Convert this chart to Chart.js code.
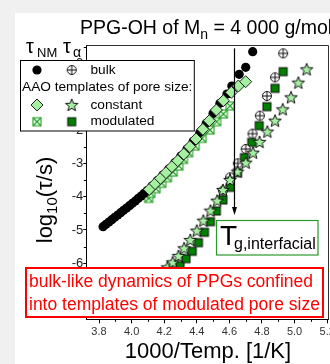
<!DOCTYPE html>
<html><head><meta charset="utf-8">
<script src="https://cdn.jsdelivr.net/npm/chart.js@4/dist/chart.umd.min.js"></script>
<style>
html,body{margin:0;padding:0;background:#f0f0f0;width:330px;height:364px;overflow:hidden;}
#wrap{position:absolute;left:15px;top:13px;width:315px;height:351px;overflow:hidden;background:#fff;}
canvas{display:block;}
</style></head><body>
<div id="wrap"><canvas id="c" width="400" height="351" style="width:400px;height:351px"></canvas></div>
<script>
// ---- data ----
const xTickValues = [3.8, 4.0, 4.2, 4.4, 4.6, 4.8, 5.0, 5.2];
const xMinorValues = [3.9, 4.1, 4.3, 4.5, 4.7, 4.9, 5.1];
const yTickValues = [-7, -6, -5, -4, -3, -2, -1, 0];
const yMinorValues = [-7.5, -6.5, -5.5, -4.5, -3.5, -2.5, -1.5, -0.5, 0.5];

const bulkNM_x = [3.825,3.843,3.861,3.879,3.897,3.915,3.933,3.951,3.969,3.987,4.005,4.023,4.041,4.059,4.077,4.095,4.125,4.158,4.192,4.228,4.265,4.302,4.340,4.378,4.418,4.458,4.500,4.542,4.585,4.615,4.660,4.700,4.743];
const bulkNM_y = [-4.90,-4.83,-4.76,-4.69,-4.62,-4.55,-4.48,-4.41,-4.34,-4.27,-4.20,-4.13,-4.05,-3.98,-3.90,-3.82,-3.68,-3.52,-3.35,-3.17,-2.98,-2.78,-2.57,-2.34,-2.08,-1.80,-1.50,-1.20,-0.92,-0.68,-0.33,-0.12,0.35];

const constNM_x = [4.109,4.144,4.177,4.211,4.247,4.283,4.320,4.357,4.395,4.437,4.477,4.520,4.563,4.612,4.655,4.700];
const constNM_y = [-3.78,-3.61,-3.45,-3.28,-3.10,-2.92,-2.72,-2.50,-2.27,-1.98,-1.72,-1.40,-1.12,-0.87,-0.68,-0.55];

const modNM_x = [4.105,4.118,4.150,4.185,4.220,4.255,4.290,4.318,4.350,4.390,4.432,4.481,4.522,4.563,4.604];
const modNM_y = [-4.05,-3.90,-3.76,-3.60,-3.43,-3.26,-3.08,-2.88,-2.68,-2.48,-2.25,-2.00,-1.75,-1.52,-1.28];

const bulkA_x = [4.560,4.604,4.652,4.700,4.742,4.787,4.830,4.880,4.930];
const bulkA_y = [-3.82,-3.42,-3.00,-2.57,-2.11,-1.57,-0.98,-0.42,0.30];

const modA_x = [4.225,4.262,4.297,4.334,4.372,4.410,4.447,4.484,4.520,4.560,4.604,4.650,4.692,4.737,4.783,4.830,4.880,4.930];
const modA_y = [-6.48,-6.27,-6.07,-5.86,-5.64,-5.38,-5.07,-4.75,-4.43,-4.10,-3.72,-3.28,-2.83,-2.37,-1.87,-1.30,-0.75,-0.25];

const constA_x = [4.185,4.220,4.252,4.288,4.322,4.360,4.400,4.440,4.484,4.525,4.560,4.604,4.650,4.700,4.745,4.785,4.833,4.880,4.927,4.978,5.023,5.074];
const constA_y = [-6.30,-6.12,-5.97,-5.78,-5.55,-5.30,-5.02,-4.72,-4.42,-4.12,-3.80,-3.50,-3.25,-2.98,-2.68,-2.36,-2.05,-1.72,-1.38,-1.02,-0.58,-0.18];

const arrowX = 4.628, arrowTop = 0.45, arrowBottom = -4.55;

// ---- styles ----
const LG = '#a4f0a0';
const FONT = '"Liberation Sans", Arial, sans-serif';

function mk(size, draw){ const c=document.createElement('canvas'); c.width=c.height=size; const g=c.getContext('2d'); draw(g,size/2); return c; }
function starPath(g,cx,cy,R,r){ g.beginPath(); for(let i=0;i<10;i++){ const a=-Math.PI/2+i*Math.PI/5; const rr=i%2?r:R; g.lineTo(cx+rr*Math.cos(a), cy+rr*Math.sin(a)); } g.closePath(); }
const starImg = mk(16,(g,c)=>{ starPath(g,c,c+0.5,6.6,2.8); g.fillStyle=LG; g.fill(); g.lineWidth=1; g.strokeStyle='#111'; g.stroke(); });
const oplusImg = mk(12,(g,c)=>{ g.beginPath(); g.arc(c,c,4.5,0,Math.PI*2); g.fillStyle='#fff'; g.fill(); g.lineWidth=1; g.strokeStyle='#111'; g.stroke(); g.beginPath(); g.moveTo(c-4.5,c); g.lineTo(c+4.5,c); g.moveTo(c,c-4.5); g.lineTo(c,c+4.5); g.stroke(); });
const xsqImg = mk(12,(g,c)=>{ g.fillStyle='#f4fff4'; g.fillRect(c-4,c-4,8,8); g.strokeStyle='#22a022'; g.lineWidth=1.1; g.strokeRect(c-4,c-4,8,8); g.beginPath(); g.moveTo(c-4,c-4); g.lineTo(c+4,c+4); g.moveTo(c+4,c-4); g.lineTo(c-4,c+4); g.stroke(); });
const dsqImg = mk(12,(g,c)=>{ g.fillStyle='#008000'; g.fillRect(c-4,c-4,8,8); g.strokeStyle='#111'; g.lineWidth=1; g.strokeRect(c-4,c-4,8,8); });

const pts = (xs,ys)=>xs.map((x,i)=>({x, y:ys[i]}));

const deco = {
  id:'deco',
  afterDatasetsDraw(chart){
    const ctx=chart.ctx, xs=chart.scales.x, ys=chart.scales.y, a=chart.chartArea;
    ctx.save();
    ctx.strokeStyle='#333'; ctx.lineWidth=1;
    ctx.beginPath(); ctx.moveTo(a.left, a.top+0.5); ctx.lineTo(a.right+0.5, a.top+0.5); ctx.lineTo(a.right+0.5, a.bottom); ctx.stroke();
    ctx.strokeStyle='#000';
    ctx.beginPath();
    yMinorValues.forEach(v=>{ const y=Math.round(ys.getPixelForValue(v))+0.5; ctx.moveTo(a.left-2.5,y); ctx.lineTo(a.left,y); });
    xMinorValues.forEach(v=>{ const x=Math.round(xs.getPixelForValue(v))+0.5; ctx.moveTo(x,a.bottom); ctx.lineTo(x,a.bottom+2.5); });
    ctx.stroke();
    const ax=Math.round(xs.getPixelForValue(arrowX))+0.5, y1=ys.getPixelForValue(arrowTop), y2=ys.getPixelForValue(arrowBottom);
    ctx.lineWidth=1.2; ctx.beginPath(); ctx.moveTo(ax,y1); ctx.lineTo(ax,y2-6); ctx.stroke();
    ctx.fillStyle='#000'; ctx.beginPath(); ctx.moveTo(ax-2.5,y2-8); ctx.lineTo(ax+2.5,y2-8); ctx.lineTo(ax,y2); ctx.closePath(); ctx.fill();
    ctx.restore();
  },
  afterDraw(chart){
    const ctx=chart.ctx;
    ctx.save();
    ctx.textBaseline='alphabetic'; ctx.textAlign='left';
    // title
    ctx.fillStyle='#000';
    ctx.font='19.5px '+FONT;
    const t1='PPG-OH of M'; ctx.fillText(t1,65,21);
    let w=ctx.measureText(t1).width;
    ctx.font='14px '+FONT; ctx.fillText('n',65+w,26);
    const wn=ctx.measureText('n').width;
    ctx.font='19.5px '+FONT; ctx.fillText(' = 4 000 g/mol',65+w+wn,21);
    // tau labels
    ctx.font='20px '+FONT; ctx.fillText('\u03c4',11,40);
    ctx.font='13px '+FONT; ctx.fillText('NM',22,44);
    ctx.font='20px '+FONT; ctx.fillText('\u03c4',48,40);
    ctx.font='14px '+FONT; ctx.fillText('\u03b1',58,44);
    // legend
    ctx.fillStyle='#fff'; ctx.fillRect(5,47,174.3,71);
    ctx.strokeStyle='#000'; ctx.lineWidth=1; ctx.strokeRect(5.5,47.5,173.8,70.5);
    const c1=22, c2=56.7, tx=75.5, r=[57,74,92,108.7];
    ctx.fillStyle='#000'; ctx.beginPath(); ctx.arc(c1,r[0],4.6,0,Math.PI*2); ctx.fill();
    ctx.drawImage(oplusImg,c2-6,r[0]-6);
    ctx.beginPath(); ctx.moveTo(c1,r[2]-6); ctx.lineTo(c1+6,r[2]); ctx.lineTo(c1,r[2]+6); ctx.lineTo(c1-6,r[2]); ctx.closePath();
    ctx.fillStyle=LG; ctx.fill(); ctx.strokeStyle='#222'; ctx.stroke();
    ctx.drawImage(starImg,c2-8,r[2]-8);
    ctx.drawImage(xsqImg,c1-6,r[3]-6);
    ctx.drawImage(dsqImg,c2-6,r[3]-6);
    ctx.fillStyle='#000'; ctx.font='13.7px '+FONT; ctx.textBaseline='middle';
    ctx.fillText('bulk',tx,r[0]);
    ctx.fillText('AAO templates of pore size:',7,r[1]);
    ctx.fillText('constant',tx,r[2]);
    ctx.fillText('modulated',tx,r[3]);
    ctx.textBaseline='alphabetic';
    // Tg box
    ctx.fillStyle='#fff'; ctx.fillRect(201.5,207.5,101.5,34.5);
    ctx.strokeStyle='#2a9a2a'; ctx.lineWidth=1.2; ctx.strokeRect(201.5,207.5,101.5,34.5);
    ctx.fillStyle='#000'; ctx.font='28px '+FONT; ctx.fillText('T',205,232);
    ctx.font='16px '+FONT; ctx.fillText('g,interfacial',219,236);
    // red box
    ctx.fillStyle='#fff'; ctx.fillRect(11,255,297,49);
    ctx.strokeStyle='#ff0000'; ctx.lineWidth=2; ctx.strokeRect(11,255,297,49);
    ctx.fillStyle='#ff0000'; ctx.font='17.5px '+FONT;
    ctx.fillText('bulk-like dynamics of PPGs confined',14,274);
    ctx.fillText('into templates of modulated pore size',14,296.5);
    // axis titles
    ctx.fillStyle='#000'; ctx.font='22px '+FONT; ctx.textAlign='center';
    ctx.fillText('1000/Temp. [1/K]',193,345);
    ctx.save();
    ctx.translate(37,187); ctx.rotate(-Math.PI/2);
    ctx.textAlign='left';
    const p1='log', p2='10', p3='(\u03c4/s)';
    ctx.font='22px '+FONT; const w1=ctx.measureText(p1).width, w3=ctx.measureText(p3).width;
    ctx.font='15px '+FONT; const w2=ctx.measureText(p2).width;
    const sx=-(w1+w2+w3)/2;
    ctx.font='22px '+FONT; ctx.fillText(p1,sx,0);
    ctx.font='15px '+FONT; ctx.fillText(p2,sx+w1,5);
    ctx.font='22px '+FONT; ctx.fillText(p3,sx+w1+w2,0);
    ctx.restore();
    ctx.restore();
  }
};

new Chart(document.getElementById('c'), {
  type:'scatter',
  data:{ datasets:[
    {label:'constant alpha', data:pts(constA_x,constA_y), pointStyle:starImg, order:1},
    {label:'bulk alpha', data:pts(bulkA_x,bulkA_y), pointStyle:oplusImg, order:2},
    {label:'modulated alpha', data:pts(modA_x,modA_y), pointStyle:dsqImg, order:3},
    {label:'constant NM', data:pts(constNM_x,constNM_y), pointStyle:'rectRot', pointRadius:6, backgroundColor:LG, borderColor:'#222', borderWidth:1, order:4},
    {label:'bulk NM', data:pts(bulkNM_x,bulkNM_y), pointStyle:'circle', pointRadius:4.6, backgroundColor:'#000', borderColor:'#000', borderWidth:0, order:5},
    {label:'modulated NM', data:pts(modNM_x,modNM_y), pointStyle:xsqImg, order:6}
  ]},
  options:{
    responsive:false, animation:false, devicePixelRatio:1,
    layout:{padding:{left:0, top:32, right:87, bottom:0}},
    plugins:{legend:{display:false}, tooltip:{enabled:false}},
    events:[],
    scales:{
      x:{type:'linear', min:3.722, max:5.205,
        afterBuildTicks:s=>{s.ticks=xTickValues.map(v=>({value:v}));},
        afterFit:s=>{s.height=44.7;},
        grid:{display:true, drawOnChartArea:false, drawTicks:true, tickLength:4, color:'#000'},
        border:{display:true, color:'#000', width:1},
        ticks:{font:{family:FONT,size:11}, color:'#333', padding:2, maxRotation:0, autoSkip:false, callback:v=>Number(v).toFixed(1)}
      },
      y:{type:'linear', min:-7.68, max:0.55,
        afterBuildTicks:s=>{s.ticks=yTickValues.map(v=>({value:v}));},
        afterFit:s=>{s.width=71.3;},
        grid:{display:true, drawOnChartArea:false, drawTicks:true, tickLength:3, color:'#000'},
        border:{display:true, color:'#000', width:1},
        ticks:{font:{family:FONT,size:13}, color:'#222', padding:0, autoSkip:false, callback:v=>String(v)}
      }
    }
  },
  plugins:[deco]
});
</script>
</body></html>
